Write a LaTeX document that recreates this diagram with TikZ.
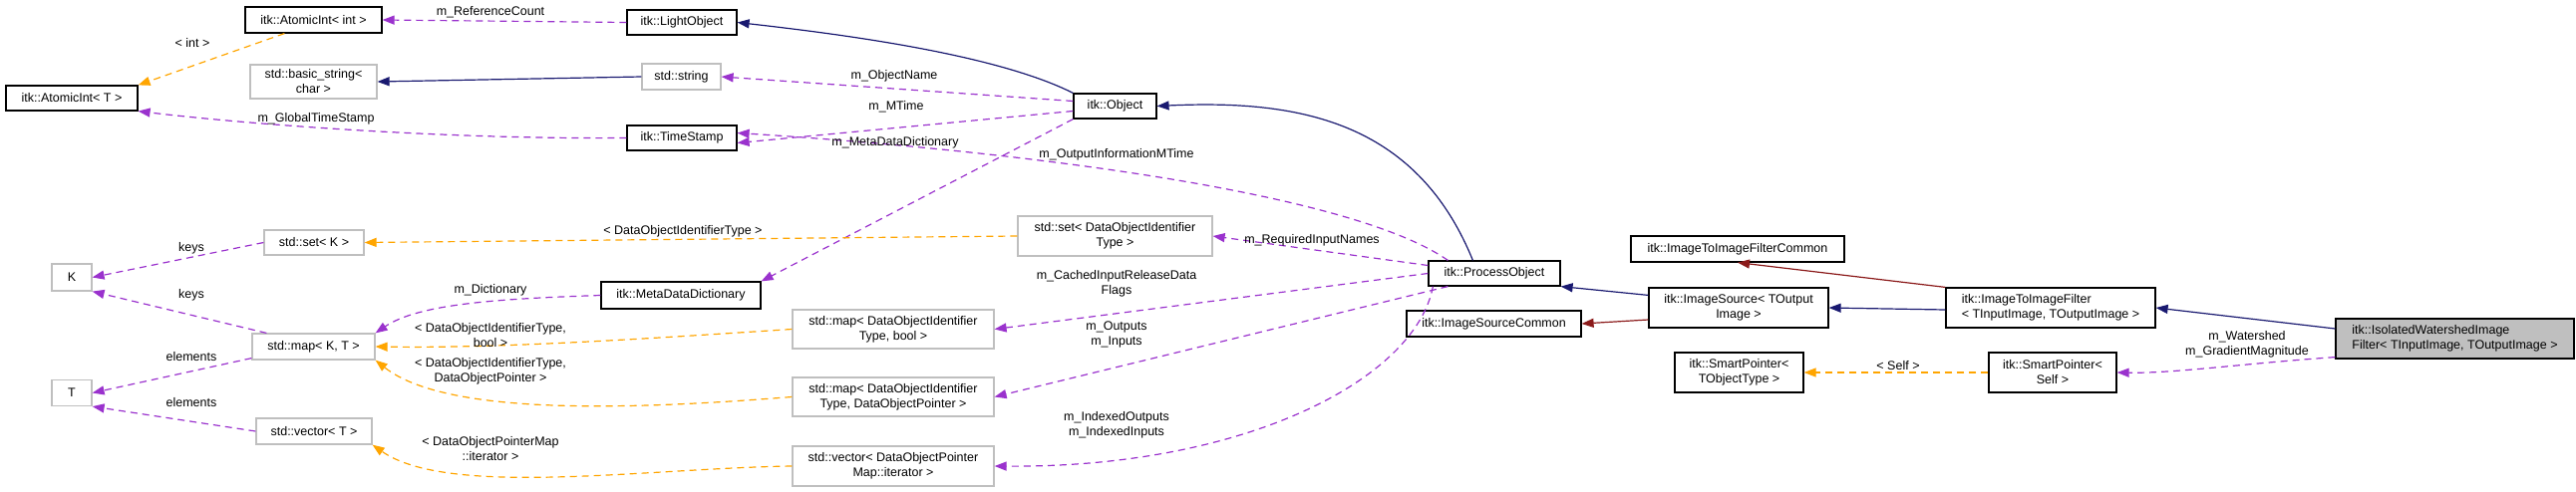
\documentclass[tikz,border=0pt]{standalone}
\usepackage{fontspec}
\setmainfont{Liberation Sans}
\usetikzlibrary{arrows.meta}
\definecolor{EdgeInherit}{RGB}{25, 25, 112}
\definecolor{EdgeUse}{RGB}{154, 50, 205}
\definecolor{EdgeTemplate}{RGB}{255, 165, 0}
\definecolor{EdgePrivate}{RGB}{139, 26, 26}
\definecolor{BoxGray}{RGB}{191, 191, 191}

\tikzset{
  box/.style={draw, inner sep=0pt, align=center, font=\fontsize{12.5}{15}\selectfont},
  cls/.style={box, draw=black, line width=1.2pt},
  ext/.style={box, draw=BoxGray, line width=1.2pt},
  focus/.style={cls, fill=BoxGray},
  lbl/.style={inner sep=0pt, align=center, font=\fontsize{12.5}{15}\selectfont},
  tip/.style={-{Triangle[length=12pt, width=9pt]}},
  inh/.style={tip, draw=EdgeInherit, line width=1.2pt},
  priv/.style={tip, draw=EdgePrivate, line width=1.2pt},
  use/.style={tip, draw=EdgeUse, line width=1.2pt, dash pattern=on 7pt off 5pt},
  tmpl/.style={tip, draw=EdgeTemplate, line width=1.2pt, dash pattern=on 7pt off 5pt},
}

\begin{document}
\begin{tikzpicture}[x=1pt, y=-1pt]
  \useasboundingbox (0,0) rectangle (2584,493);

  % left column
  \node[cls, minimum width=132, minimum height=25] (atomT) at (72,98.5) {itk::AtomicInt< T >};
  \node[ext, minimum width=40, minimum height=27] (K) at (72,278.5) {K};
  \node[ext, minimum width=40, minimum height=26] (T) at (72,394.5) {T};

  % second column
  \node[cls, minimum width=137, minimum height=26] (atomInt) at (314.5,20) {itk::AtomicInt< int >};
  \node[ext, minimum width=127, minimum height=34] (bstr) at (314.5,82) {std::basic\_string<\\char >};
  \node[ext, minimum width=100, minimum height=25] (setK) at (315,243.5) {std::set< K >};
  \node[ext, minimum width=123, minimum height=26] (mapKT) at (314.5,348) {std::map< K, T >};
  \node[ext, minimum width=116, minimum height=26] (vecT) at (315,433) {std::vector< T >};

  % third column
  \node[cls, minimum width=110, minimum height=25] (light) at (684,22.5) {itk::LightObject};
  \node[ext, minimum width=79, minimum height=26] (str) at (683.5,77) {std::string};
  \node[cls, minimum width=110, minimum height=25] (tstamp) at (684,138.5) {itk::TimeStamp};
  \node[cls, minimum width=160, minimum height=27] (mdd) at (683,296.5) {itk::MetaDataDictionary};

  % fourth column
  \node[ext, minimum width=202, minimum height=39] (mapBool) at (896,330.5) {std::map< DataObjectIdentifier\\Type, bool >};
  \node[ext, minimum width=202, minimum height=39] (mapPtr) at (896,398.5) {std::map< DataObjectIdentifier\\Type, DataObjectPointer >};
  \node[ext, minimum width=202, minimum height=40] (vecDOP) at (896,468) {std::vector< DataObjectPointer\\Map::iterator >};
  \node[cls, minimum width=83, minimum height=25] (obj) at (1118.5,106.5) {itk::Object};
  \node[ext, minimum width=195, minimum height=40] (setDOIT) at (1118.5,237) {std::set< DataObjectIdentifier\\Type >};

  % process object and filters
  \node[cls, minimum width=132, minimum height=25] (proc) at (1499,274.5) {itk::ProcessObject};
  \node[cls, minimum width=175, minimum height=26] (isc) at (1498.5,325) {itk::ImageSourceCommon};
  \node[cls, minimum width=214, minimum height=26] (itifc) at (1743,250) {itk::ImageToImageFilterCommon};
  \node[cls, minimum width=180, minimum height=40] (isrc) at (1744,309) {itk::ImageSource< TOutput\\Image >};
  \node[cls, minimum width=129, minimum height=40] (spT) at (1744.5,374) {itk::SmartPointer<\\TObjectType >};
  \node[cls, minimum width=210, minimum height=40, align=left] (itif) at (2057,309) {itk::ImageToImageFilter\\< TInputImage, TOutputImage >};
  \node[cls, minimum width=128, minimum height=40] (spS) at (2059,374) {itk::SmartPointer<\\Self >};
  \node[focus, minimum width=239, minimum height=40, align=left] (iwf) at (2462.5,340) {itk::IsolatedWatershedImage\\Filter< TInputImage, TOutputImage >};

  % connectors
  \draw[use] (light.west) -- (atomInt.east);
  \draw[tmpl] (atomInt.south west) ++(40,0) -- (atomT.north east);
  \draw[inh] (str.west) -- (bstr.east);
  \draw[inh] (obj.north west) .. controls (1000,55) and (850,35) .. (light.east);
  \draw[use] (obj.west) ++(0,-5) -- (str.east);
  \draw[use] (obj.west) ++(0,5) -- ([yshift=-5]tstamp.east);
  \draw[use] (tstamp.west) .. controls (450,140) and (250,125) .. (atomT.south east);
  \draw[use] (obj.south west) -- (mdd.north east);
  \draw[use] (proc.north west) ++(20,0) .. controls (1350,190) and (1000,150) .. ([yshift=5]tstamp.east);
  \draw[inh] (proc.north west) ++(45,0) .. controls (1420,120) and (1300,100) .. (obj.east);
  \draw[use] (mdd.west) .. controls (500,300) and (420,305) .. (mapKT.north east);
  \draw[use] (setK.west) -- (K.east);
  \draw[use] (mapKT.north west) ++(15,0) -- (K.south east);
  \draw[use] (mapKT.south west) ++(0,-2) -- (T.east);
  \draw[use] (vecT.west) -- (T.south east);
  \draw[tmpl] (setDOIT.west) -- (setK.east);
  \draw[tmpl] (mapBool.west) .. controls (650,340) and (500,350) .. (mapKT.east);
  \draw[tmpl] (mapPtr.west) .. controls (650,410) and (450,420) .. (mapKT.south east);
  \draw[tmpl] (vecDOP.west) .. controls (650,470) and (450,500) .. (vecT.south east);
  \draw[use] (proc.west) ++(0,-8) -- (setDOIT.east);
  \draw[use] (proc.west) ++(0,0) -- (mapBool.east);
  \draw[use] (proc.south west) ++(20,0) -- (mapPtr.east);
  \draw[use] (proc.south west) ++(5,0) .. controls (1420,380) and (1250,470) .. (vecDOP.east);
  \draw[inh] (isrc.north west) ++(0,8) -- (proc.south east);
  \draw[priv] (isrc.west) ++(0,12) -- (isc.east);
  \draw[inh] (itif.west) ++(0,2) -- (isrc.east);
  \draw[priv] (itif.north west) -- (itifc.south);
  \draw[inh] (iwf.west) ++(0,-10) -- (itif.east);
  \draw[use] (iwf.south west) ++(0,-2) .. controls (2250,365) and (2180,375) .. (spS.east);
  \draw[tmpl] (spS.west) -- (spT.east);

  % connector labels
  \node[lbl] (lRef) at (492,12) {m\_ReferenceCount};
  \node[lbl] (lInt) at (193,43) {< int >};
  \node[lbl] (lName) at (897,76) {m\_ObjectName};
  \node[lbl] (lMTime) at (899,107) {m\_MTime};
  \node[lbl] (lGlobal) at (317,119) {m\_GlobalTimeStamp};
  \node[lbl] (lMeta) at (898,143) {m\_MetaDataDictionary};
  \node[lbl] (lOutInfo) at (1120,155) {m\_OutputInformationMTime};
  \node[lbl] (lSetT) at (685,232) {< DataObjectIdentifierType >};
  \node[lbl] (lKeysA) at (192,249) {keys};
  \node[lbl] (lKeysB) at (192,296) {keys};
  \node[lbl] (lDict) at (492,291) {m\_Dictionary};
  \node[lbl] (lMapBool) at (492,337) {< DataObjectIdentifierType,\\bool >};
  \node[lbl] (lElemA) at (192,358) {elements};
  \node[lbl] (lMapPtr) at (492,373) {< DataObjectIdentifierType,\\DataObjectPointer >};
  \node[lbl] (lElemB) at (192,404) {elements};
  \node[lbl] (lVecT) at (492,451) {< DataObjectPointerMap\\::iterator >};
  \node[lbl] (lReq) at (1316,241) {m\_RequiredInputNames};
  \node[lbl] (lCached) at (1120,285) {m\_CachedInputReleaseData\\Flags};
  \node[lbl] (lOut) at (1120,336) {m\_Outputs\\m\_Inputs};
  \node[lbl] (lIdx) at (1120,427) {m\_IndexedOutputs\\m\_IndexedInputs};
  \node[lbl] (lWater) at (2254,346) {m\_Watershed\\m\_GradientMagnitude};
  \node[lbl] (lSelf) at (1904,367) {< Self >};
\end{tikzpicture}
\end{document}
